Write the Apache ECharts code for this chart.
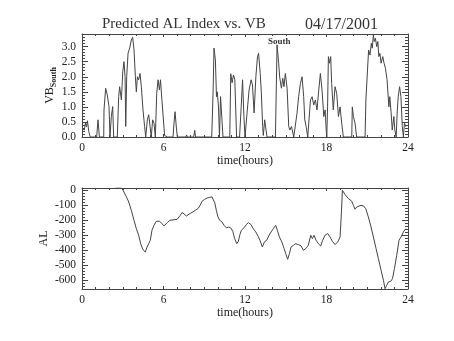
<!DOCTYPE html>
<html><head><meta charset="utf-8">
<script src="https://cdn.jsdelivr.net/npm/echarts@6/dist/echarts.min.js"></script>
<style>html,body{margin:0;padding:0;background:#fff}#c{width:454px;height:341px}</style>
</head><body><div id="c"></div>
<script>
// ---- data ----
const vbTime = [0.0,0.1,0.17,0.25,0.33,0.4,0.5,0.61,1.08,1.18,1.28,1.6,1.62,1.74,1.86,1.99,2.06,2.16,2.26,2.33,2.6,2.7,2.77,2.9,3.0,3.09,3.17,3.22,3.29,3.39,3.51,3.63,3.73,3.83,3.93,4.0,4.08,4.17,4.27,4.37,4.49,4.61,4.69,4.81,4.91,5.01,5.1,5.2,5.3,5.4,5.5,5.6,5.7,5.78,5.88,5.98,6.08,6.15,6.3,6.7,6.78,6.85,6.95,7.02,7.65,7.7,7.75,8.22,8.3,8.36,9.55,9.65,9.72,9.82,9.9,9.96,10.05,10.12,10.2,10.3,10.38,10.88,10.95,11.05,11.15,11.25,11.38,11.6,11.72,11.82,11.92,12.0,12.15,12.3,12.45,12.55,12.67,12.8,12.92,13.0,13.12,13.2,13.3,13.35,13.45,13.55,13.62,14.24,14.36,14.48,14.55,14.68,14.78,14.87,14.97,15.1,15.22,15.3,15.42,15.59,15.71,15.83,15.95,16.08,16.2,16.32,16.4,16.5,16.62,16.82,16.94,17.06,17.18,17.3,17.43,17.55,17.67,17.8,17.9,17.97,18.02,18.08,18.14,18.22,18.31,18.38,18.5,18.63,18.75,18.88,19.0,19.12,19.24,19.86,19.9,19.98,20.1,20.22,20.84,20.9,21.02,21.1,21.2,21.3,21.37,21.45,21.52,21.6,21.7,21.78,21.85,21.93,22.02,22.14,22.24,22.34,22.46,22.59,22.66,22.76,22.84,22.96,23.03,23.13,23.2,23.28,23.38,23.48,23.58,23.66,23.74,23.84,23.95];
const vbValue = [0.30,0.34,0.23,0.46,0.34,0.54,0.18,0.0,0.0,0.57,0.0,0.0,0.9,1.62,1.4,1.01,0.0,0.68,1.01,0.0,0.0,1.34,1.67,1.23,2.17,2.5,2.0,0.35,2.0,2.78,2.95,3.22,3.31,2.89,2.0,1.5,2.0,1.9,2.11,1.67,0.9,0.35,0.0,0.57,0.74,0.35,0.0,0.57,0.46,0.0,1.45,1.9,1.56,1.9,1.25,1.2,0.05,0.1,0.0,0.0,0.5,0.84,0.3,0.0,0.0,0.07,0.0,0.0,0.22,0.0,0.0,1.5,2.95,2.56,1.34,1.5,1.0,0.0,1.34,1.34,0.0,0.0,2.1,1.8,2.06,1.9,0.0,0.0,1.0,1.9,0.68,0.0,0.79,1.56,1.9,1.73,0.8,2.0,2.67,2.78,2.11,1.5,0.35,0.05,0.57,0.23,0.0,0.0,3.06,2.45,2.0,1.62,1.95,1.67,2.11,1.62,0.35,0.23,0.35,0.0,0.0,0.79,1.34,1.78,2.0,1.34,0.57,0.35,0.0,1.23,1.34,1.06,1.23,0.9,1.56,2.11,1.56,0.68,0.9,0.3,0.0,1.0,2.67,2.45,2.67,1.78,0.9,1.67,1.45,0.68,1.0,0.46,0.0,0.0,1.0,0.68,0.46,0.0,0.0,1.23,1.23,2.89,2.72,3.11,2.95,3.39,3.17,3.28,3.0,3.17,2.67,2.78,2.45,2.67,2.45,2.28,1.9,1.0,1.34,0.79,0.23,0.68,0.23,0.0,0.79,1.34,1.67,1.34,0.35,0.0,0.46,0.35,0.4];
const alTime = [2.45,2.9,3.02,3.27,3.44,3.63,3.83,4.0,4.17,4.32,4.49,4.66,4.79,4.91,5.03,5.15,5.3,5.47,5.6,5.72,5.89,6.04,6.14,6.28,6.46,6.58,6.7,6.83,7.0,7.12,7.24,7.36,7.51,7.68,7.81,7.98,8.17,8.35,8.54,8.67,8.84,9.03,9.23,9.4,9.57,9.67,9.77,9.89,10.01,10.14,10.31,10.46,10.63,10.8,10.95,11.1,11.24,11.39,11.51,11.61,11.73,11.86,11.98,12.1,12.25,12.44,12.61,12.79,12.93,13.1,13.28,13.43,13.6,13.77,13.92,14.09,14.26,14.38,14.53,14.71,14.88,15.0,15.14,15.27,15.39,15.56,15.74,15.93,16.13,16.3,16.47,16.66,16.84,16.96,17.08,17.23,17.4,17.57,17.72,17.89,18.09,18.26,18.43,18.63,18.83,19.0,19.1,19.17,19.24,19.37,19.49,19.61,19.74,19.86,19.98,20.1,20.23,20.35,20.54,20.72,20.89,21.08,21.28,21.45,21.65,21.82,22.02,22.19,22.31,22.43,22.56,22.73,22.86,23.0,23.17,23.34,23.49,23.66,23.83];
const alValue = [13,13,-2,-46,-80,-135,-202,-257,-301,-357,-397,-412,-379,-357,-334,-268,-235,-208,-195,-208,-224,-239,-230,-217,-202,-195,-199,-202,-195,-186,-168,-150,-159,-173,-164,-155,-146,-135,-124,-106,-75,-62,-53,-49,-46,-53,-84,-135,-179,-202,-213,-235,-252,-246,-252,-275,-323,-357,-341,-301,-268,-257,-246,-230,-217,-230,-257,-279,-301,-334,-379,-345,-334,-301,-279,-257,-235,-268,-312,-345,-390,-423,-461,-423,-379,-368,-357,-363,-372,-401,-390,-368,-301,-323,-301,-334,-357,-372,-334,-301,-290,-312,-341,-363,-345,-312,-146,-2,9,-31,-40,-57,-69,-75,-102,-128,-113,-102,-102,-106,-124,-179,-246,-312,-390,-456,-534,-600,-656,-634,-611,-607,-589,-523,-434,-334,-312,-279,-257];
const xTicks = [0, 6, 12, 18, 24];
const vbTicks = [0.0, 0.5, 1.0, 1.5, 2.0, 2.5, 3.0];
const alTicks = [0, -100, -200, -300, -400, -500, -600];
// ---- chart ----
const FONT = 'Liberation Serif';
const INK = '#444';
const TXT = '#222';
const vbData = vbTime.map((t, i) => [t, vbValue[i]]);
const alData = alTime.map((t, i) => [t, alValue[i]]);

function minorValues(ticks, n, lo, hi) {
  const sorted = ticks.slice().sort((a, b) => a - b);
  const step = (sorted[1] - sorted[0]) / n;
  const out = [];
  for (let v = sorted[0] - 20 * step * n; v <= hi + 1e-9; v += step) {
    if (v >= lo - 1e-9) out.push(Math.round(v * 1e6) / 1e6);
  }
  return out;
}

function xAx(grid, pos, labels) {
  return {
    type: 'value', gridIndex: grid, position: pos, min: xTicks[0], max: xTicks[xTicks.length - 1],
    interval: xTicks[1] - xTicks[0],
    name: labels ? 'time(hours)' : '', nameLocation: 'middle', nameGap: 18,
    nameTextStyle: { fontFamily: FONT, fontSize: 12, color: TXT },
    axisLine: { show: true, onZero: false, lineStyle: { color: INK, width: 1 } },
    axisTick: { show: true, inside: true, length: 3, lineStyle: { color: INK } },
    minorTick: { show: true, splitNumber: 6, length: 2, lineStyle: { color: INK } },
    axisLabel: { show: labels, margin: 5, fontFamily: FONT, fontSize: 11.5, color: TXT },
    splitLine: { show: false }
  };
}
function yAx(grid, pos, kind, ticks, min, max, name, nameGap, fmt) {
  const major = kind !== 'minor';
  const labels = kind === 'label';
  return {
    type: 'value', gridIndex: grid, position: pos, min: min, max: max,
    name: labels ? name : '', nameLocation: 'middle', nameGap: nameGap, nameRotate: 90,
    nameMoveOverlap: false,
    nameTextStyle: { fontFamily: FONT, fontSize: 12, color: TXT,
      rich: {
        a: { fontFamily: FONT, fontSize: 12, color: TXT, lineHeight: 16, verticalAlign: 'middle' },
        s: { fontFamily: FONT, fontSize: 8, color: TXT, fontWeight: 'bold', lineHeight: 16, verticalAlign: 'bottom' }
      } },
    axisLine: { show: major, onZero: false, lineStyle: { color: INK, width: 1 } },
    axisTick: { show: true, inside: true, length: major ? 6 : 3, lineStyle: { color: INK },
      customValues: major ? ticks : minorValues(ticks, 5, min, max) },
    minorTick: { show: false },
    axisLabel: { show: labels, margin: 6, fontFamily: FONT, fontSize: 11.5, color: TXT,
      formatter: fmt, customValues: ticks },
    splitLine: { show: false }
  };
}

const chart = echarts.init(document.getElementById('c'), null, { renderer: 'canvas' });
chart.setOption({
  animation: false,
  backgroundColor: '#fff',
  title: [
    { text: 'Predicted AL Index vs. VB', left: 102, top: 17, padding: 0, textStyle: { fontFamily: FONT, fontSize: 15, fontWeight: 'normal', color: '#333' } },
    { text: 'South', left: 268, top: 37, padding: 0, textStyle: { fontFamily: FONT, fontSize: 9, fontWeight: 'bold', color: '#333' } },
    { text: '04/17/2001', left: 305, top: 17, padding: 0, textStyle: { fontFamily: FONT, fontSize: 16, fontWeight: 'normal', color: '#333' } }
  ],
  grid: [
    { left: 82, top: 34, width: 326, height: 103, containLabel: false },
    { left: 82, top: 188, width: 326, height: 101, containLabel: false }
  ],
  xAxis: [xAx(0, 'bottom', true), xAx(0, 'top', false), xAx(1, 'bottom', true), xAx(1, 'top', false)],
  yAxis: [
    yAx(0, 'left', 'label', vbTicks, 0, 3.42, '{a|VB}{s|South}', 24, v => v.toFixed(1)),
    yAx(0, 'left', 'minor', vbTicks, 0, 3.42, '', 0, null),
    yAx(0, 'right', 'major', vbTicks, 0, 3.42, '', 0, null),
    yAx(0, 'right', 'minor', vbTicks, 0, 3.42, '', 0, null),
    yAx(1, 'left', 'label', alTicks, -658, 13, 'AL', 32, v => String(v)),
    yAx(1, 'left', 'minor', alTicks, -658, 13, '', 0, null),
    yAx(1, 'right', 'major', alTicks, -658, 13, '', 0, null),
    yAx(1, 'right', 'minor', alTicks, -658, 13, '', 0, null)
  ],
  series: [
    { type: 'line', xAxisIndex: 0, yAxisIndex: 0, data: vbData, showSymbol: false, clip: true,
      lineStyle: { color: '#444', width: 1 } },
    { type: 'line', xAxisIndex: 2, yAxisIndex: 4, data: alData, showSymbol: false, clip: true,
      lineStyle: { color: '#444', width: 1 } }
  ]
});
</script></body></html>
